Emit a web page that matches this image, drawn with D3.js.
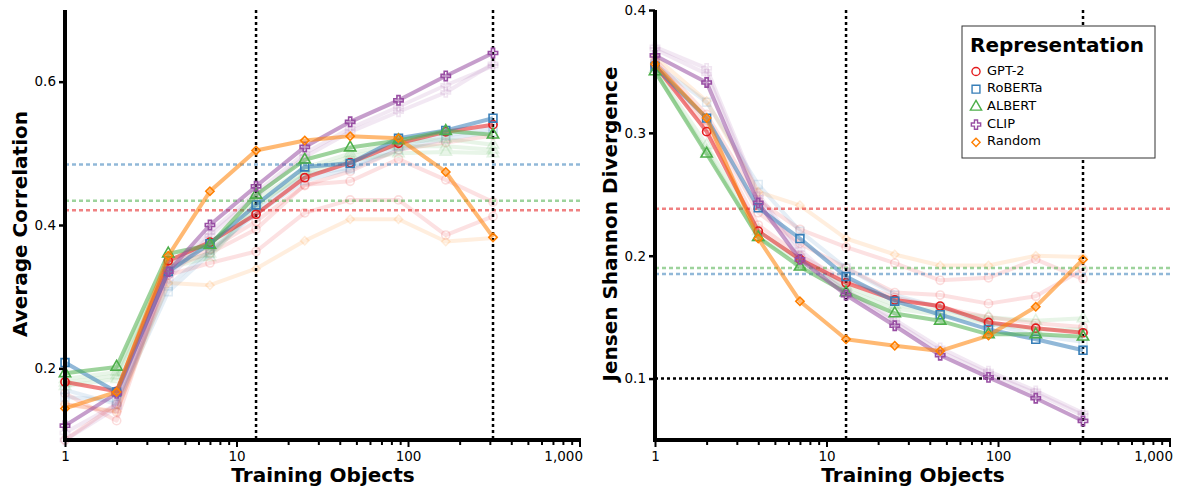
<!DOCTYPE html>
<html>
<head>
<meta charset="utf-8">
<script src="https://cdn.jsdelivr.net/npm/d3@7"></script>
<style>
  body { margin: 0; background: #fff; }
  svg text { font-family: "DejaVu Sans", sans-serif; }
</style>
</head>
<body>
<svg id="chart" width="1177" height="488"></svg>
<script>
// training set sizes (x) shared by both panels
const objects = [1, 2, 4, 7, 13, 25, 46, 88, 166, 313];
const reps = ["GPT-2", "RoBERTa", "ALBERT", "CLIP", "Random"];
const xMajorTicks = [1, 10, 100, 1000];
const corrTicks = [0.2, 0.4, 0.6];
const jsdTicks = [0.1, 0.2, 0.3, 0.4];
const markLines = [13, 313];

// left panel: average correlation, highlighted run per representation
const corrGPT2    = [0.181, 0.168, 0.350, 0.376, 0.415, 0.466, 0.487, 0.514, 0.530, 0.540];
const corrRoBERTa = [0.208, 0.167, 0.335, 0.374, 0.428, 0.481, 0.486, 0.521, 0.532, 0.549];
const corrALBERT  = [0.193, 0.202, 0.360, 0.372, 0.442, 0.491, 0.508, 0.518, 0.531, 0.526];
const corrCLIP    = [0.120, 0.165, 0.335, 0.400, 0.454, 0.509, 0.544, 0.574, 0.608, 0.640];
const corrRandom  = [0.144, 0.167, 0.357, 0.447, 0.504, 0.518, 0.524, 0.521, 0.474, 0.383];

// left panel: faint runs
const corrGPT2Faint = [
  [0.150, 0.139, 0.330, 0.347, 0.363, 0.417, 0.435, 0.435, 0.386, 0.412],
  [0.165, 0.127, 0.340, 0.361, 0.394, 0.456, 0.461, 0.492, 0.463, 0.432],
  [0.100, 0.150, 0.345, 0.366, 0.405, 0.455, 0.475, 0.505, 0.515, 0.525]
];
const corrRoBERTaFaint = [
  [0.170, 0.150, 0.307, 0.360, 0.420, 0.470, 0.480, 0.510, 0.525, 0.535],
  [0.160, 0.155, 0.315, 0.365, 0.415, 0.462, 0.478, 0.505, 0.520, 0.530]
];
const corrALBERTFaint = [
  [0.180, 0.190, 0.345, 0.360, 0.430, 0.470, 0.490, 0.500, 0.502, 0.500],
  [0.185, 0.195, 0.350, 0.370, 0.435, 0.480, 0.500, 0.515, 0.520, 0.512],
  [0.175, 0.185, 0.340, 0.355, 0.425, 0.475, 0.495, 0.510, 0.510, 0.505]
];
const corrCLIPFaint = [
  [0.110, 0.150, 0.330, 0.390, 0.445, 0.500, 0.535, 0.565, 0.595, 0.622],
  [0.100, 0.145, 0.325, 0.385, 0.440, 0.495, 0.530, 0.558, 0.585, 0.625]
];
const corrRandomFaint = [
  [0.150, 0.140, 0.319, 0.316, 0.339, 0.378, 0.408, 0.408, 0.377, 0.382]
];
// dotted reference levels (GPT-2, RoBERTa, ALBERT)
const corrBaselines = [0.4205, 0.4845, 0.4338];

// right panel: Jensen Shannon divergence
const jsdGPT2    = [0.355, 0.301, 0.220, 0.197, 0.178, 0.164, 0.159, 0.1457, 0.141, 0.1373];
const jsdRoBERTa = [0.354, 0.312, 0.239, 0.214, 0.183, 0.163, 0.152, 0.140, 0.132, 0.123];
const jsdALBERT  = [0.350, 0.283, 0.215, 0.191, 0.170, 0.153, 0.147, 0.136, 0.136, 0.134];
const jsdCLIP    = [0.363, 0.341, 0.243, 0.197, 0.168, 0.143, 0.119, 0.101, 0.084, 0.0655];
const jsdRandom  = [0.356, 0.312, 0.214, 0.163, 0.132, 0.1267, 0.1225, 0.135, 0.1585, 0.197];

const jsdGPT2Faint = [
  [0.360, 0.315, 0.245, 0.2215, 0.207, 0.194, 0.180, 0.182, 0.197, 0.181],
  [0.358, 0.310, 0.235, 0.210, 0.190, 0.170, 0.168, 0.161, 0.167, 0.189],
  [0.355, 0.305, 0.225, 0.200, 0.180, 0.166, 0.158, 0.150, 0.145, 0.142]
];
const jsdRoBERTaFaint = [
  [0.356, 0.325, 0.258, 0.220, 0.190, 0.168, 0.158, 0.145, 0.135, 0.130]
];
const jsdALBERTFaint = [
  [0.352, 0.290, 0.220, 0.197, 0.175, 0.160, 0.155, 0.150, 0.147, 0.149],
  [0.350, 0.285, 0.215, 0.195, 0.172, 0.157, 0.152, 0.145, 0.140, 0.140]
];
const jsdCLIPFaint = [
  [0.370, 0.3525, 0.250, 0.205, 0.172, 0.148, 0.125, 0.106, 0.090, 0.072],
  [0.368, 0.348, 0.248, 0.200, 0.170, 0.146, 0.122, 0.104, 0.088, 0.070]
];
const jsdRandomFaint = [
  [0.362, 0.326, 0.252, 0.241, 0.214, 0.201, 0.192, 0.192, 0.200, 0.199]
];
const jsdBaselines = [0.2383, 0.1851, 0.190];
const jsdChance = 0.1;

// ---- styles ----
const colors = { "GPT-2": "#e41a1c", "RoBERTa": "#377eb8", "ALBERT": "#4daf4a", "CLIP": "#984ea3", "Random": "#ff7f00" };
const symbols = {
  "GPT-2":   d3.symbol(d3.symbolCircle, 52)(),
  "RoBERTa": d3.symbol(d3.symbolSquare, 62)(),
  "ALBERT":  d3.symbol(d3.symbolTriangle, 55)(),
  "CLIP":    d3.symbol(d3.symbolCross, 48)(),
  "Random":  d3.symbol(d3.symbolSquare, 34)()
};

const svg = d3.select("#chart");

function buildPanel(cfg) {
  const x = d3.scaleLog().domain([1, 1020]).range([cfg.left, cfg.left + 516]);
  const y = d3.scaleLinear().domain(cfg.yDomain).range([440, 10]);
  const g = svg.append("g");

  const line = d3.line().x((d, i) => x(objects[i])).y(d => y(d));

  const drawRun = (vals, rep, lineOpacity, markOpacity) => {
    g.append("path")
      .datum(vals)
      .attr("d", line)
      .attr("fill", "none")
      .attr("stroke", colors[rep])
      .attr("stroke-width", 4)
      .attr("stroke-linejoin", "round")
      .attr("stroke-opacity", lineOpacity);
    g.append("g").selectAll("path")
      .data(vals)
      .join("path")
      .attr("d", symbols[rep])
      .attr("transform", (d, i) => `translate(${x(objects[i])},${y(d)})` + (rep === "Random" ? " rotate(45)" : ""))
      .attr("fill", "none")
      .attr("stroke", colors[rep])
      .attr("stroke-width", 1.6)
      .attr("stroke-opacity", markOpacity);
  };

  // faint runs first
  reps.forEach(rep => cfg.faint[rep].forEach(vals => drawRun(vals, rep, 0.13, 0.15)));

  // reference levels
  cfg.baselines.forEach((v, i) => {
    g.append("line")
      .attr("x1", x.range()[0]).attr("x2", x.range()[1])
      .attr("y1", y(v)).attr("y2", y(v))
      .attr("stroke", colors[reps[i]])
      .attr("stroke-opacity", 0.55)
      .attr("stroke-width", 2.5)
      .attr("stroke-dasharray", "4,3");
  });
  if (cfg.chance != null) {
    g.append("line")
      .attr("x1", x.range()[0]).attr("x2", x.range()[1])
      .attr("y1", y(cfg.chance)).attr("y2", y(cfg.chance))
      .attr("stroke", "#000").attr("stroke-width", 2.5)
      .attr("stroke-dasharray", "3,3");
  }
  markLines.forEach(v => {
    g.append("line")
      .attr("x1", x(v)).attr("x2", x(v))
      .attr("y1", 10).attr("y2", 440)
      .attr("stroke", "#000").attr("stroke-width", 2.5)
      .attr("stroke-dasharray", "3,3");
  });

  // highlighted runs
  reps.forEach(rep => drawRun(cfg.main[rep], rep, 0.55, 1));

  // axes
  const minor = [];
  [1, 10, 100].forEach(b => { for (let k = 2; k <= 9; k++) minor.push(b * k); });

  g.append("g")
    .attr("transform", "translate(0,440)")
    .call(d3.axisBottom(x).tickValues(minor).tickFormat("").tickSize(5))
    .call(a => a.select(".domain").remove())
    .call(a => a.selectAll("line").attr("stroke-width", 2));
  g.append("g")
    .attr("transform", "translate(0,440)")
    .call(d3.axisBottom(x).tickValues(xMajorTicks).tickFormat(d3.format(",")).tickSize(7).tickPadding(4))
    .call(a => a.select(".domain").remove())
    .call(a => a.selectAll("line").attr("stroke-width", 2))
    .call(a => a.selectAll("text").attr("font-size", 13.5).attr("fill", "#000"))
    // last label sits left of its tick, as in the reference
    .call(a => a.selectAll(".tick").filter(d => d === 1000).select("text")
      .attr("text-anchor", "end").attr("x", 3));
  g.append("g")
    .attr("transform", `translate(${cfg.left},0)`)
    .call(d3.axisLeft(y).tickValues(cfg.yTicks).tickFormat(d3.format(".1f")).tickSize(6).tickPadding(3))
    .call(a => a.select(".domain").remove())
    .call(a => a.selectAll("line").attr("stroke-width", 2.5))
    .call(a => a.selectAll("text").attr("font-size", 13.5).attr("fill", "#000"));

  // thick spines
  g.append("line")
    .attr("x1", cfg.left).attr("x2", cfg.left).attr("y1", 10).attr("y2", 442)
    .attr("stroke", "#000").attr("stroke-width", 4);
  g.append("line")
    .attr("x1", cfg.left - 2).attr("x2", x.range()[1]).attr("y1", 440).attr("y2", 440)
    .attr("stroke", "#000").attr("stroke-width", 4);

  // titles
  g.append("text")
    .attr("x", (x.range()[0] + x.range()[1]) / 2).attr("y", 482)
    .attr("text-anchor", "middle").attr("font-size", 20).attr("font-weight", "bold")
    .text("Training Objects");
  g.append("text")
    .attr("transform", `translate(${cfg.left - 38},224) rotate(-90)`)
    .attr("text-anchor", "middle").attr("font-size", 20).attr("font-weight", "bold")
    .text(cfg.yLabel);

  return { g, x, y };
}

buildPanel({
  left: 65,
  yDomain: [0.1, 0.7],
  yTicks: corrTicks,
  yLabel: "Average Correlation",
  main: { "GPT-2": corrGPT2, "RoBERTa": corrRoBERTa, "ALBERT": corrALBERT, "CLIP": corrCLIP, "Random": corrRandom },
  faint: { "GPT-2": corrGPT2Faint, "RoBERTa": corrRoBERTaFaint, "ALBERT": corrALBERTFaint, "CLIP": corrCLIPFaint, "Random": corrRandomFaint },
  baselines: corrBaselines,
  chance: null
});

buildPanel({
  left: 655,
  yDomain: [0.05, 0.4],
  yTicks: jsdTicks,
  yLabel: "Jensen Shannon Divergence",
  main: { "GPT-2": jsdGPT2, "RoBERTa": jsdRoBERTa, "ALBERT": jsdALBERT, "CLIP": jsdCLIP, "Random": jsdRandom },
  faint: { "GPT-2": jsdGPT2Faint, "RoBERTa": jsdRoBERTaFaint, "ALBERT": jsdALBERTFaint, "CLIP": jsdCLIPFaint, "Random": jsdRandomFaint },
  baselines: jsdBaselines,
  chance: jsdChance
});

// legend
const legend = svg.append("g").attr("transform", "translate(962,26)");
legend.append("rect")
  .attr("width", 193).attr("height", 132)
  .attr("fill", "#fff").attr("stroke", "#333").attr("stroke-width", 1);
legend.append("text")
  .attr("x", 8).attr("y", 26)
  .attr("font-size", 20).attr("font-weight", "bold")
  .text("Representation");
reps.forEach((rep, i) => {
  const row = legend.append("g").attr("transform", `translate(0,${44 + i * 17.7})`);
  row.append("path")
    .attr("d", symbols[rep])
    .attr("transform", "translate(14,1.5)" + (rep === "Random" ? " rotate(45)" : ""))
    .attr("fill", "none").attr("stroke", colors[rep]).attr("stroke-width", 1.4);
  row.append("text")
    .attr("x", 25).attr("y", 0).attr("dy", "0.35em")
    .attr("font-size", 13)
    .text(rep);
});
</script>
</body>
</html>
